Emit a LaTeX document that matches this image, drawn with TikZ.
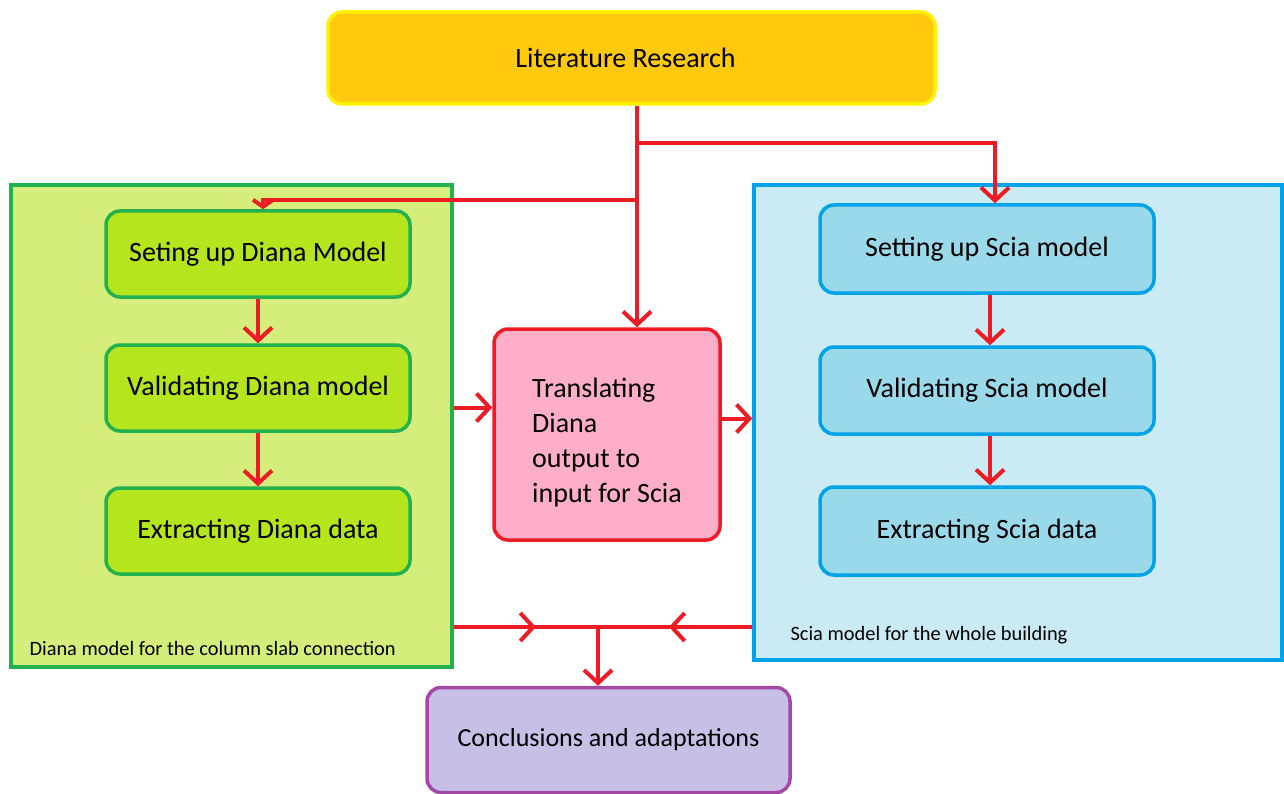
\documentclass[tikz,border=0pt]{standalone}
\usepackage{fontspec}
\setmainfont{Carlito}
\usepackage{tikz}
\usetikzlibrary{arrows.meta,positioning,decorations.markings}

\definecolor{litfill}{HTML}{FFC90E}
\definecolor{litline}{HTML}{FFF200}
\definecolor{dianaback}{HTML}{D5EE7B}
\definecolor{dianafill}{HTML}{B5E61D}
\definecolor{dianaline}{HTML}{22B14C}
\definecolor{sciaback}{HTML}{CAEBF4}
\definecolor{sciafill}{HTML}{99D9EA}
\definecolor{scialine}{HTML}{00A2E8}
\definecolor{transfill}{HTML}{FFAEC9}
\definecolor{flowred}{HTML}{ED1C24}
\definecolor{conclfill}{HTML}{C8BFE7}
\definecolor{conclline}{HTML}{A349A4}

\begin{document}
\begin{tikzpicture}[x=1pt, y=-1pt,
    stage/.style={rectangle, rounded corners=14pt, line width=3.5pt, inner sep=0pt, align=center, font=\fontsize{28}{35}\selectfont},
    group/.style={rectangle, line width=3.5pt, inner sep=0pt},
    note/.style={font=\fontsize{20.4}{24}\selectfont, anchor=west},
    link/.style={draw=flowred, line width=4pt},
    flow/.style={link, -{Straight Barb[length=13pt, width=28pt]}},
    smallflow/.style={link, -{Straight Barb[length=7pt, width=20pt]}},
    midarrow/.style={postaction={decorate}, decoration={markings,
        mark=at position #1 with {\arrow{Straight Barb[length=13pt, width=28pt]}}}}
]
    \useasboundingbox (0,0) rectangle (1284,794);

    % Containers
    \node[group, draw=dianaline, fill=dianaback, minimum width=441pt, minimum height=482pt] (diana) at (231.5,426) {};
    \node[group, draw=scialine, fill=sciaback, minimum width=528pt, minimum height=475pt] (scia) at (1018,422.5) {};

    % Stages
    \node[stage, draw=litline, fill=litfill, minimum width=607pt, minimum height=92pt] (lit) at (631.5,58) {\hspace*{-12pt}Literature Research};
    \node[stage, draw=dianaline, fill=dianafill, minimum width=304pt, minimum height=86pt] (dset) at (258,254) {Seting up Diana Model};
    \node[stage, draw=dianaline, fill=dianafill, minimum width=304pt, minimum height=86pt] (dval) at (258,388) {Validating Diana model};
    \node[stage, draw=dianaline, fill=dianafill, minimum width=304pt, minimum height=86pt] (dext) at (258,531) {Extracting Diana data};
    \node[stage, draw=scialine, fill=sciafill, minimum width=334pt, minimum height=88pt] (sset) at (987,249) {Setting up Scia model};
    \node[stage, draw=scialine, fill=sciafill, minimum width=334pt, minimum height=87pt] (sval) at (987,390.5) {Validating Scia model};
    \node[stage, draw=scialine, fill=sciafill, minimum width=334pt, minimum height=88pt] (sext) at (987,531) {Extracting Scia data};
    \node[stage, draw=flowred, fill=transfill, minimum width=226pt, minimum height=211pt, align=left] (trans) at (607,434.5) {\rule{0pt}{35pt}Translating\\Diana\\output to\\input for Scia};
    \node[stage, draw=conclline, fill=conclfill, minimum width=363pt, minimum height=105pt, font=\fontsize{26}{32}\selectfont] (concl) at (608.5,740) {Conclusions and adaptations};

    % Group labels
    \node[note] (dnote) at (26,648) {Diana model for the column slab connection};
    \node[note] (snote) at (787,635) {Scia model for the whole building};

    % From literature research
    \coordinate (split) at (637,143);
    \coordinate (branch) at (637,200);
    \draw[link] (lit.south -| split) -- (split);
    \draw[flow] (split) -| ([xshift=8pt]sset.north);
    \draw[flow] (split) -- (trans.north -| split);
    \draw[smallflow] (branch) -| ([xshift=5pt]dset.north);

    % Inside the groups
    \draw[flow] (dset) -- (dval);
    \draw[flow] (dval) -- (dext);
    \draw[flow] ([xshift=3pt]sset.south) -- ([xshift=3pt]sval.north);
    \draw[flow] ([xshift=3pt]sval.south) -- ([xshift=3pt]sext.north);

    % Translation
    \coordinate (tin) at ([yshift=27pt]trans.west);
    \coordinate (tout) at ([yshift=16pt]trans.east);
    \draw[flow] (diana.east |- tin) -- (tin);
    \draw[flow] (tout) -- (scia.west |- tout);

    % To conclusions
    \coordinate (merge) at (598,627);
    \draw[link, midarrow=0.57] (diana.east |- merge) -- (merge);
    \draw[link, midarrow=0.54] (scia.west |- merge) -- (merge);
    \draw[flow] (merge) -- (concl.north -| merge);
\end{tikzpicture}
\end{document}
